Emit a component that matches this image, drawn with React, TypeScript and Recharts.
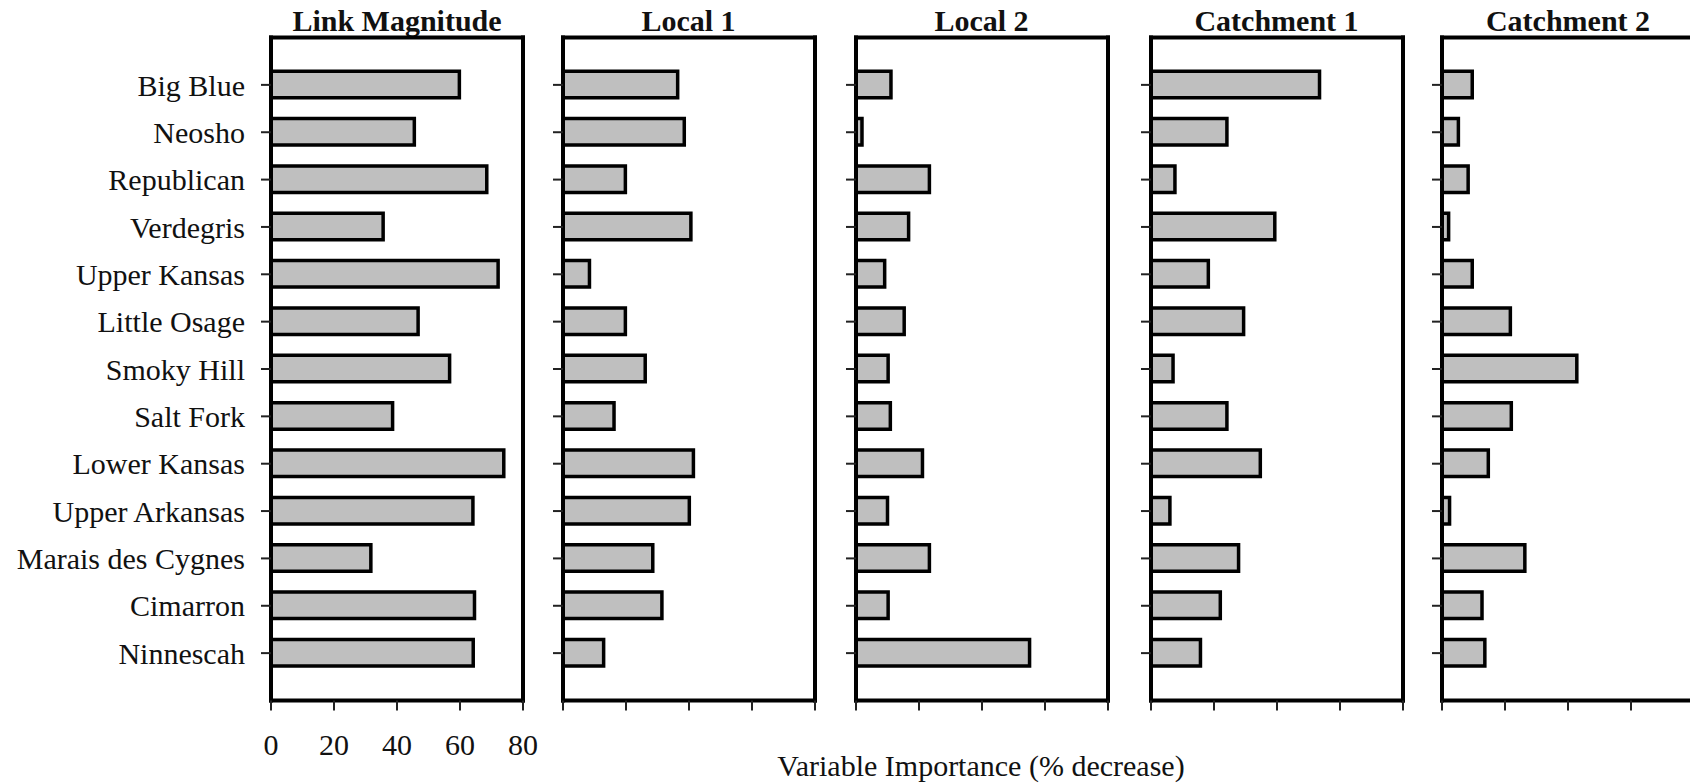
import { BarChart, Bar, XAxis, YAxis } from 'recharts';

// River basins, listed top to bottom
const basins = [
  'Big Blue',
  'Neosho',
  'Republican',
  'Verdegris',
  'Upper Kansas',
  'Little Osage',
  'Smoky Hill',
  'Salt Fork',
  'Lower Kansas',
  'Upper Arkansas',
  'Marais des Cygnes',
  'Cimarron',
  'Ninnescah',
];

// Variable importance (% decrease) per predictor
const linkMagnitude = [59.8, 45.5, 68.5, 35.6, 72.1, 46.7, 56.7, 38.6, 73.9, 64.1, 31.7, 64.6, 64.2];
const local1 = [36.4, 38.5, 19.8, 40.6, 8.4, 19.8, 26.1, 16.2, 41.4, 40.1, 28.5, 31.4, 12.9];
const local2 = [11.1, 1.9, 23.3, 16.7, 9.1, 15.3, 10.2, 10.9, 21.1, 10.0, 23.3, 10.2, 55.1];
const catchment1 = [53.5, 24.1, 7.6, 39.3, 18.2, 29.4, 7.0, 24.1, 34.7, 6.0, 27.8, 22.0, 15.7];
const catchment2 = [9.6, 5.2, 8.3, 2.1, 9.6, 21.7, 42.8, 22.0, 14.7, 2.4, 26.3, 12.7, 13.6];

const xTicks = [0, 20, 40, 60, 80];

const panels = [
  { title: 'Link Magnitude', values: linkMagnitude, left: 271, labels: true },
  { title: 'Local 1', values: local1, left: 562.5, labels: false },
  { title: 'Local 2', values: local2, left: 855.5, labels: false },
  { title: 'Catchment 1', values: catchment1, left: 1150.5, labels: false },
  { title: 'Catchment 2', values: catchment2, left: 1442, labels: false },
];

const W = 1690;
const H = 783;
const PLOT_W = 252;
const PLOT_TOP = 37.5;
const PLOT_BOTTOM = 700.5;
const TICK = 10;
const SERIF = '"Liberation Serif", "Times New Roman", serif';

// axes with 1px boxes; their lines sit on the plot edges and form the frame
const frame = { stroke: '#000', strokeWidth: 4, strokeLinecap: 'square' as const };

// tick mark plus optional label, drawn from the point where the axis places the tick
function LeftTick({ x, y, payload, labels }: any) {
  return (
    <g>
      <line x1={x - TICK} x2={x} y1={y} y2={y} stroke="#222" strokeWidth={2} />
      {labels && (
        <text x={x - 26} y={y} dy="0.355em" textAnchor="end" fontSize={30} fontFamily={SERIF} fill="#111">
          {payload.value}
        </text>
      )}
    </g>
  );
}

function BottomTick({ x, y, payload, labels }: any) {
  return (
    <g>
      <line x1={x} x2={x} y1={y} y2={y + TICK} stroke="#222" strokeWidth={2} />
      {labels && (
        <text x={x} y={y + 54.5} textAnchor="middle" fontSize={30} fontFamily={SERIF} fill="#111">
          {payload.value}
        </text>
      )}
    </g>
  );
}

function Panel({ title, values, left, labels }: { title: string; values: number[]; left: number; labels: boolean }) {
  const data = basins.map((name, i) => ({ name, value: values[i] }));
  const axisW = labels ? left : 20;
  const width = axisW + PLOT_W + 20;

  return (
    <>
      <div
        style={{
          position: 'absolute',
          left,
          top: 6,
          width: PLOT_W,
          textAlign: 'center',
          fontFamily: SERIF,
          fontWeight: 'bold',
          fontSize: 30,
          lineHeight: '30px',
          color: '#111',
          whiteSpace: 'nowrap',
        }}
      >
        {title}
      </div>
      <div style={{ position: 'absolute', left: left - axisW, top: 0 }}>
        <BarChart
          layout="vertical"
          width={width}
          height={H}
          data={data}
          barSize={26.5}
          margin={{ top: PLOT_TOP - 1, right: 19, bottom: H - PLOT_BOTTOM - 1, left: 0 }}
        >
          <XAxis
            type="number"
            domain={[0, 80]}
            ticks={xTicks}
            height={1}
            axisLine={frame}
            tickLine={false}
            tickSize={0}
            tickMargin={0}
            tick={(p: any) => <BottomTick {...p} labels={labels} />}
          />
          <XAxis
            xAxisId="top"
            orientation="top"
            type="number"
            domain={[0, 80]}
            height={1}
            axisLine={frame}
            tick={false}
            tickLine={false}
          />
          <YAxis
            type="category"
            dataKey="name"
            width={axisW}
            padding={{ top: 23.7, bottom: 23.7 }}
            axisLine={frame}
            tickLine={false}
            tickSize={0}
            tickMargin={0}
            interval={0}
            tick={(p: any) => <LeftTick {...p} labels={labels} />}
          />
          <YAxis
            yAxisId="right"
            orientation="right"
            type="category"
            dataKey="name"
            width={1}
            axisLine={frame}
            tick={false}
            tickLine={false}
          />
          <Bar dataKey="value" fill="#bfbfbf" stroke="#000" strokeWidth={3.5} isAnimationActive={false} />
        </BarChart>
      </div>
    </>
  );
}

export default function App() {
  return (
    <div
      style={{
        position: 'absolute',
        left: 0,
        top: 0,
        width: W,
        height: H,
        overflow: 'hidden',
        background: '#fff',
      }}
    >
      {panels.map((p) => (
        <Panel key={p.title} {...p} />
      ))}
      <div
        style={{
          position: 'absolute',
          left: 981 - 300,
          top: 751,
          width: 600,
          textAlign: 'center',
          fontFamily: SERIF,
          fontSize: 30,
          lineHeight: '30px',
          color: '#111',
        }}
      >
        Variable Importance (% decrease)
      </div>
    </div>
  );
}
